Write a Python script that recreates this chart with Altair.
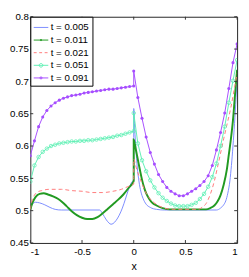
import altair as alt
import pandas as pd

FONT = "Liberation Sans"

labels = ["t = 0.005", "t = 0.011", "t = 0.021", "t = 0.051", "t = 0.091"]

x_ticks = [-1, -0.5, 0, 0.5, 1]
y_ticks = [0.45, 0.5, 0.55, 0.6, 0.65, 0.7, 0.75, 0.8]

# marker grid for t = 0.051 and t = 0.091
grid_left = [-1.00, -0.96, -0.92, -0.88, -0.84, -0.80, -0.76, -0.72, -0.68, -0.64,
             -0.60, -0.56, -0.52, -0.48, -0.44, -0.40, -0.36, -0.32, -0.28, -0.24,
             -0.20, -0.16, -0.12, -0.08, -0.04, 0.00]
grid_right = [0.00, 0.04, 0.08, 0.12, 0.16, 0.20, 0.24, 0.28, 0.32, 0.36,
              0.40, 0.44, 0.48, 0.52, 0.56, 0.60, 0.64, 0.68, 0.72, 0.76,
              0.80, 0.84, 0.88, 0.92, 0.96, 1.00]

purple_left = [0.585, 0.608, 0.630, 0.645, 0.655, 0.662, 0.667, 0.671, 0.674, 0.676,
               0.678, 0.679, 0.680, 0.682, 0.683, 0.684, 0.685, 0.686, 0.687, 0.688,
               0.688, 0.689, 0.690, 0.691, 0.692, 0.693]
purple_right = [0.716, 0.675, 0.643, 0.614, 0.590, 0.572, 0.556, 0.545, 0.536, 0.530,
                0.526, 0.523, 0.523, 0.526, 0.530, 0.534, 0.539, 0.545, 0.554, 0.570,
                0.594, 0.621, 0.651, 0.689, 0.729, 0.758]

cyan_left = [0.545, 0.570, 0.583, 0.591, 0.596, 0.600, 0.602, 0.604, 0.605, 0.606,
             0.607, 0.607, 0.608, 0.608, 0.609, 0.609, 0.610, 0.611, 0.612, 0.613,
             0.614, 0.616, 0.617, 0.619, 0.621, 0.623]
cyan_right = [0.651, 0.604, 0.578, 0.561, 0.547, 0.536, 0.527, 0.520, 0.515, 0.511,
              0.508, 0.507, 0.507, 0.507, 0.509, 0.512, 0.518, 0.526, 0.537, 0.552,
              0.573, 0.600, 0.630, 0.667, 0.701, 0.733]

blue_x_left = [-1.00, -0.98, -0.95, -0.91, -0.86, -0.81, -0.76, -0.70, -0.33, -0.30,
               -0.27, -0.24, -0.22, -0.20, -0.17, -0.14, -0.11, -0.08, -0.05, -0.02, 0.00]
blue_left = [0.503, 0.510, 0.513, 0.512, 0.509, 0.505, 0.502, 0.501, 0.501, 0.495,
             0.487, 0.481, 0.479, 0.480, 0.485, 0.493, 0.504, 0.518, 0.533, 0.544, 0.548]
blue_x_right = [0.00, 0.01, 0.02, 0.035, 0.05, 0.07, 0.09, 0.12, 0.16, 0.22, 0.30,
                0.80, 0.84, 0.87, 0.89, 0.91, 0.93, 0.945, 0.96, 0.975, 0.99, 1.00]
blue_right = [0.658, 0.625, 0.598, 0.566, 0.546, 0.529, 0.519, 0.510, 0.505, 0.502, 0.501,
              0.501, 0.504, 0.509, 0.515, 0.527, 0.546, 0.570, 0.600, 0.635, 0.675, 0.705]

green_x_left = [-1.00, -0.98, -0.95, -0.91, -0.87, -0.83, -0.78, -0.73, -0.69, -0.65,
                -0.60, -0.55, -0.50, -0.45, -0.40, -0.35, -0.30, -0.25, -0.20, -0.15,
                -0.10, -0.05, 0.00]
green_left = [0.502, 0.512, 0.521, 0.526, 0.527, 0.525, 0.522, 0.518, 0.513, 0.507,
              0.499, 0.493, 0.489, 0.487, 0.487, 0.490, 0.496, 0.503, 0.510, 0.517,
              0.525, 0.535, 0.546]
green_x_right = [0.00, 0.02, 0.04, 0.06, 0.08, 0.10, 0.12, 0.15, 0.18, 0.22, 0.28, 0.35,
                 0.70, 0.74, 0.78, 0.81, 0.84, 0.87, 0.90, 0.92, 0.94, 0.96, 0.98, 1.00]
green_right = [0.610, 0.595, 0.579, 0.563, 0.548, 0.536, 0.527, 0.518, 0.512, 0.508, 0.504, 0.502,
               0.502, 0.504, 0.508, 0.514, 0.524, 0.540, 0.563, 0.587, 0.611, 0.640, 0.680, 0.718]

red_x_left = [-1.00, -0.985, -0.96, -0.93, -0.89, -0.82, -0.70, -0.60, -0.50, -0.40,
              -0.30, -0.20, -0.12, -0.06, 0.00]
red_left = [0.502, 0.515, 0.524, 0.529, 0.531, 0.533, 0.533, 0.531, 0.530, 0.528,
            0.528, 0.530, 0.533, 0.537, 0.541]
red_x_right = [0.00, 0.02, 0.05, 0.08, 0.11, 0.15, 0.20, 0.25, 0.32, 0.40, 0.62,
               0.66, 0.70, 0.74, 0.78, 0.81, 0.84, 0.87, 0.90, 0.94, 0.97, 1.00]
red_right = [0.580, 0.569, 0.554, 0.542, 0.530, 0.520, 0.512, 0.507, 0.503, 0.502, 0.502,
             0.505, 0.511, 0.525, 0.546, 0.567, 0.589, 0.611, 0.632, 0.660, 0.686, 0.712]

series_xy = {
    labels[0]: (blue_x_left + blue_x_right, blue_left + blue_right),
    labels[1]: (green_x_left + green_x_right, green_left + green_right),
    labels[2]: (red_x_left + red_x_right, red_left + red_right),
    labels[3]: (grid_left + grid_right, cyan_left + cyan_right),
    labels[4]: (grid_left + grid_right, purple_left + purple_right),
}

rows = []
for lab, (xv, yv) in series_xy.items():
    for i, (a, b) in enumerate(zip(xv, yv)):
        rows.append({"series": lab, "x": a, "y": b, "i": i})
df = pd.DataFrame(rows)

# styles
colors = ["#7b8bff", "#229a22", "#ff7a7a", "#5ef0b4", "#a64dff"]
line_styles = [
    dict(strokeWidth=1, interpolate="monotone"),
    dict(strokeWidth=2, interpolate="monotone"),
    dict(strokeWidth=1, interpolate="monotone", strokeDash=[4, 3]),
    dict(strokeWidth=1, interpolate="linear"),
    dict(strokeWidth=1, interpolate="linear"),
]
legend_paths = [
    "M-1,0L1,0",
    "M-1,0L1,0M0.1,0A0.1,0.1 0 1 1 -0.1,0A0.1,0.1 0 1 1 0.1,0",
    "M-1,0L-0.6,0M-0.25,0L0.15,0M0.5,0L0.9,0",
    "M-1,0L1,0M0.25,0A0.25,0.25 0 1 1 -0.25,0A0.25,0.25 0 1 1 0.25,0",
    "M-1,0L1,0M0.15,0A0.15,0.15 0 1 1 -0.15,0A0.15,0.15 0 1 1 0.15,0",
]

W, H = 213, 233
xs = alt.Scale(domain=[-1, 1], nice=False, zero=False)
ys = alt.Scale(domain=[0.45, 0.8], nice=False, zero=False)
axis_common = dict(ticks=False, domain=False, grid=False, labelFont=FONT, labelFontSize=10,
                   labelColor="black", labelExpr="'' + datum.value")
xaxis = alt.Axis(values=x_ticks, title="x", labelPadding=4, titleFont=FONT, titleFontSize=11,
                 titleFontWeight="normal", titleColor="black", titlePadding=4, **axis_common)
yaxis = alt.Axis(values=y_ticks, title=None, labelPadding=2, **axis_common)

def X(f):
    return alt.X(f, scale=xs, axis=xaxis)

def Y(f):
    return alt.Y(f, scale=ys, axis=yaxis)

base = alt.Chart(df)
layers = []
for lab, col, st in zip(labels, colors, line_styles):
    layers.append(
        base.transform_filter(alt.datum.series == lab)
        .mark_line(color=col, clip=True, **st)
        .encode(x=X("x:Q"), y=Y("y:Q"), order=alt.Order("i:Q"))
    )

layers.append(
    base.transform_filter(alt.datum.series == labels[3])
    .mark_point(shape="circle", filled=False, color=colors[3], size=13, strokeWidth=0.8, opacity=1, clip=True)
    .encode(x=X("x:Q"), y=Y("y:Q"))
)
layers.append(
    base.transform_filter(alt.datum.series == labels[4])
    .mark_point(shape="circle", filled=True, color=colors[4], size=10, opacity=1, clip=True)
    .encode(x=X("x:Q"), y=Y("y:Q"))
)

leg = alt.Legend(title=None, orient="top-left", offset=0, padding=3, fillColor="white",
                 strokeColor="black", symbolSize=225, symbolStrokeWidth=1, labelFont=FONT,
                 labelFontSize=10, labelColor="black", labelOffset=2, rowPadding=0)
layers.append(
    base.transform_filter("datum.y > 5")
    .mark_point(filled=False, opacity=1, strokeWidth=1)
    .encode(
        x=X("x:Q"), y=Y("y:Q"),
        color=alt.Color("series:N", scale=alt.Scale(domain=labels, range=colors), legend=leg),
        shape=alt.Shape("series:N", scale=alt.Scale(domain=labels, range=legend_paths), legend=leg),
    )
)

# inward ticks on all four sides
xt = pd.DataFrame({"v": x_ticks})
yt = pd.DataFrame({"v": y_ticks})
tk = dict(color="#333333", strokeWidth=1)
layers.append(alt.Chart(yt).mark_rule(**tk).encode(y=Y("v:Q"), x=alt.value(0), x2=alt.value(3)))
layers.append(alt.Chart(yt).mark_rule(**tk).encode(y=Y("v:Q"), x=alt.value(W), x2=alt.value(W - 3)))
layers.append(alt.Chart(xt).mark_rule(**tk).encode(x=X("v:Q"), y=alt.value(H), y2=alt.value(H - 3)))
layers.append(alt.Chart(xt).mark_rule(**tk).encode(x=X("v:Q"), y=alt.value(0), y2=alt.value(3)))

chart = (
    alt.layer(*layers)
    .properties(
        width=W, height=H,
        autosize=alt.AutoSizeParams(type="none"),
        padding={"left": 23, "top": 5, "right": 4, "bottom": 30},
    )
    .configure_view(stroke="#222222", strokeWidth=1)
)

chart.save("out.html", embed_options={"renderer": "svg", "actions": False})
